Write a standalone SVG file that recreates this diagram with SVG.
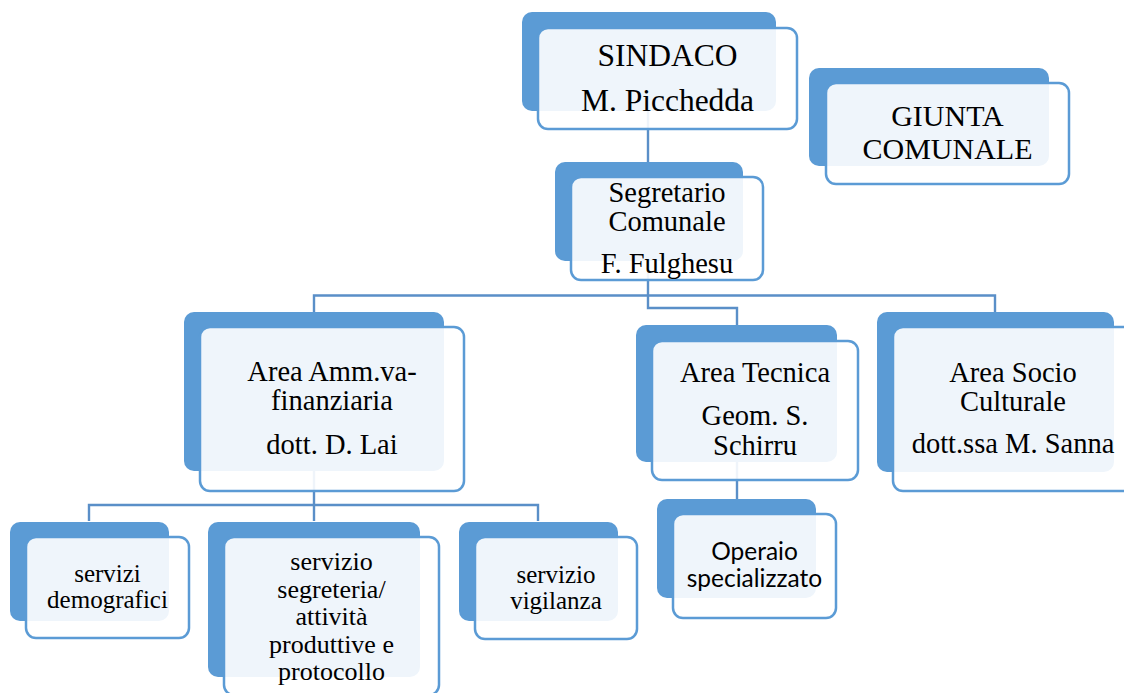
<svg xmlns="http://www.w3.org/2000/svg" width="1124" height="693" viewBox="0 0 1124 693">
<style>
.bk{fill:#5B9BD5;}
.fr{fill:#FFFFFF;fill-opacity:0.9;stroke:#5B9BD5;stroke-width:2.5;}
.cn{fill:none;stroke:#5A8FC8;stroke-width:2.4;}
.t{font-family:"Liberation Serif","Times New Roman",serif;fill:#000;text-anchor:middle;}
.s{font-family:Lato,"Liberation Sans",sans-serif;fill:#000;text-anchor:middle;}
</style>
<rect width="1124" height="693" fill="#FFFFFF"/>
<g id="connectors">
<path class="cn" d="M648,111 V162"/>
<path class="cn" d="M648,261 V308 H737 V325"/>
<path class="cn" d="M314,312 V295.5 H995 V312"/>
<path class="cn" d="M314,471 V505"/>
<path class="cn" d="M89,521 V505 H538 V521"/>
<path class="cn" d="M314,505 V521"/>
<path class="cn" d="M737,462 V499"/>
</g>
<g id="sindaco">
<rect class="bk" x="522" y="12" width="254" height="99" rx="10"/>
<rect class="fr" x="538" y="28" width="259" height="101" rx="10"/>
<text class="t" font-size="31.5" x="667.5" y="66">SINDACO</text>
<text class="t" font-size="31.5" x="667.5" y="111">M. Picchedda</text>
</g>
<g id="giunta">
<rect class="bk" x="809" y="68" width="240" height="98" rx="10"/>
<rect class="fr" x="826" y="83" width="243" height="101" rx="10"/>
<text class="t" font-size="30" x="947.5" y="126">GIUNTA</text>
<text class="t" font-size="30" x="947.5" y="158.5">COMUNALE</text>
</g>
<g id="segretario">
<rect class="bk" x="555" y="162" width="188" height="99" rx="10"/>
<rect class="fr" x="571" y="177" width="192" height="103" rx="10"/>
<text class="t" font-size="28.5" x="667" y="201.5">Segretario</text>
<text class="t" font-size="28.5" x="667" y="231">Comunale</text>
<text class="t" font-size="28.5" x="667" y="273">F. Fulghesu</text>
</g>
<g id="area-amm">
<rect class="bk" x="184" y="312" width="260" height="159" rx="10"/>
<rect class="fr" x="200" y="327" width="264" height="164" rx="10"/>
<text class="t" font-size="28.5" x="332" y="380.5">Area Amm.va-</text>
<text class="t" font-size="28.5" x="332" y="410">finanziaria</text>
<text class="t" font-size="28.5" x="332" y="454">dott. D. Lai</text>
</g>
<g id="area-tecnica">
<rect class="bk" x="636" y="325" width="201" height="137" rx="10"/>
<rect class="fr" x="652" y="341" width="206" height="139" rx="10"/>
<text class="t" font-size="28.5" x="755" y="382">Area Tecnica</text>
<text class="t" font-size="28.5" x="755" y="425">Geom. S.</text>
<text class="t" font-size="28.5" x="755" y="455">Schirru</text>
</g>
<g id="area-socio">
<rect class="bk" x="877" y="312" width="237" height="160" rx="10"/>
<rect class="fr" x="893" y="327" width="240" height="164" rx="10"/>
<text class="t" font-size="28.5" x="1013" y="381.5">Area Socio</text>
<text class="t" font-size="28.5" x="1013" y="411">Culturale</text>
<text class="t" font-size="28.5" x="1013" y="453">dott.ssa M. Sanna</text>
</g>
<g id="servizi-demografici">
<rect class="bk" x="10" y="522" width="159" height="99" rx="10"/>
<rect class="fr" x="26" y="537" width="163" height="101" rx="10"/>
<text class="t" font-size="25" x="107.5" y="581.5">servizi</text>
<text class="t" font-size="25" x="107.5" y="608">demografici</text>
</g>
<g id="servizio-segreteria">
<rect class="bk" x="208" y="522" width="212" height="155" rx="10"/>
<rect class="fr" x="224" y="537" width="215" height="158" rx="10"/>
<text class="t" font-size="26" x="331.5" y="570">servizio</text>
<text class="t" font-size="26" x="331.5" y="597.5">segreteria/</text>
<text class="t" font-size="26" x="331.5" y="625">attività</text>
<text class="t" font-size="26" x="331.5" y="652.5">produttive e</text>
<text class="t" font-size="26" x="331.5" y="680">protocollo</text>
</g>
<g id="servizio-vigilanza">
<rect class="bk" x="459" y="522" width="159" height="99" rx="10"/>
<rect class="fr" x="475" y="537" width="162" height="102" rx="10"/>
<text class="t" font-size="25" x="556" y="582.5">servizio</text>
<text class="t" font-size="25" x="556" y="609">vigilanza</text>
</g>
<g id="operaio">
<rect class="bk" x="657" y="499" width="159" height="99" rx="10"/>
<rect class="fr" x="673" y="514" width="163" height="104" rx="10"/>
<text class="s" font-size="24.5" x="754.5" y="560">Operaio</text>
<text class="s" font-size="24.5" x="754.5" y="587">specializzato</text>
</g>
</svg>
